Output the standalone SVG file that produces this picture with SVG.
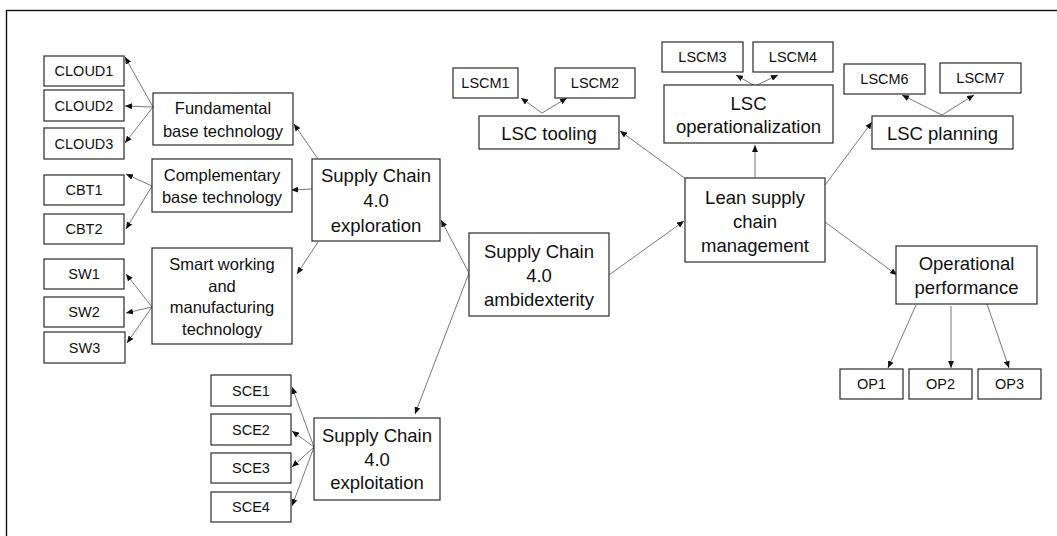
<svg xmlns="http://www.w3.org/2000/svg" width="1057" height="536" viewBox="0 0 1057 536">
<defs>
<marker id="ah" markerUnits="userSpaceOnUse" markerWidth="7" markerHeight="6" refX="7" refY="3" orient="auto">
<path d="M0,0 L7,3 L0,6 z" fill="#111"/>
</marker>
<style>
.box{fill:#fff;stroke:#2a2a2a;stroke-width:1.2}
.frame{fill:none;stroke:#111;stroke-width:1.4}
.c{fill:none;stroke:#555;stroke-width:0.8;marker-end:url(#ah)}
text{font-family:"Liberation Sans",Arial,sans-serif;fill:#111;text-anchor:middle;dominant-baseline:central}
.s{font-size:14.5px}
.m{font-size:16.5px}
.b{font-size:18.5px}
</style>
</defs>
<rect class="frame" x="6.5" y="10.5" width="1100" height="600"/>

<g id="connectors">
<line class="c" x1="153" y1="107" x2="125" y2="57"/>
<line class="c" x1="153" y1="107" x2="125" y2="106"/>
<line class="c" x1="153" y1="107" x2="125" y2="143"/>
<line class="c" x1="152" y1="186" x2="126" y2="174"/>
<line class="c" x1="152" y1="186" x2="126" y2="229"/>
<line class="c" x1="152" y1="307" x2="126" y2="274"/>
<line class="c" x1="152" y1="307" x2="126" y2="313"/>
<line class="c" x1="152" y1="307" x2="127" y2="343"/>
<line class="c" x1="318" y1="159" x2="294" y2="124"/>
<line class="c" x1="312" y1="189" x2="291" y2="190"/>
<line class="c" x1="318" y1="242" x2="297" y2="274"/>
<line class="c" x1="469" y1="273" x2="441" y2="220"/>
<line class="c" x1="469" y1="273" x2="415" y2="414"/>
<line class="c" x1="609" y1="275" x2="684" y2="221"/>
<line class="c" x1="686" y1="179" x2="620" y2="131"/>
<line class="c" x1="755" y1="178" x2="755" y2="145"/>
<line class="c" x1="825" y1="185" x2="872" y2="122"/>
<line class="c" x1="825" y1="222" x2="897" y2="275"/>
<line class="c" x1="916" y1="305" x2="888" y2="368"/>
<line class="c" x1="951" y1="306" x2="951" y2="368"/>
<line class="c" x1="987" y1="304" x2="1009" y2="368"/>
<line class="c" x1="542" y1="113" x2="521" y2="98"/>
<line class="c" x1="542" y1="113" x2="567" y2="98"/>
<line class="c" x1="755" y1="86" x2="736" y2="75"/>
<line class="c" x1="755" y1="86" x2="778" y2="75"/>
<line class="c" x1="942" y1="115" x2="902" y2="95"/>
<line class="c" x1="942" y1="115" x2="974" y2="95"/>
<line class="c" x1="314" y1="447" x2="292" y2="387"/>
<line class="c" x1="314" y1="447" x2="292" y2="431"/>
<line class="c" x1="314" y1="447" x2="292" y2="467"/>
<line class="c" x1="314" y1="447" x2="292" y2="506"/>
</g>

<g id="cloud1"><rect class="box" x="44" y="56" width="80" height="30"/><text class="s" x="84" y="71">CLOUD1</text></g>
<g id="cloud2"><rect class="box" x="44" y="90" width="80" height="31"/><text class="s" x="84" y="105.5">CLOUD2</text></g>
<g id="cloud3"><rect class="box" x="44" y="128" width="80" height="31"/><text class="s" x="84" y="143.5">CLOUD3</text></g>
<g id="cbt1"><rect class="box" x="44" y="175" width="80" height="30"/><text class="s" x="84" y="190">CBT1</text></g>
<g id="cbt2"><rect class="box" x="44" y="214" width="80" height="30"/><text class="s" x="84" y="229">CBT2</text></g>
<g id="sw1"><rect class="box" x="44" y="259" width="80" height="30"/><text class="s" x="84" y="274">SW1</text></g>
<g id="sw2"><rect class="box" x="44" y="297" width="80" height="30"/><text class="s" x="84" y="312">SW2</text></g>
<g id="sw3"><rect class="box" x="44" y="332" width="81" height="31"/><text class="s" x="84.5" y="347.5">SW3</text></g>

<g id="fundamental"><rect class="box" x="153" y="93" width="140" height="52"/><text class="m" x="223" y="108">Fundamental</text><text class="m" x="223" y="130.5">base technology</text></g>
<g id="complementary"><rect class="box" x="152" y="159" width="140" height="53"/><text class="m" x="222" y="174.5">Complementary</text><text class="m" x="222" y="196.5">base technology</text></g>
<g id="smart"><rect class="box" x="152" y="248" width="140" height="96"/><text class="m" x="222" y="264">Smart working</text><text class="m" x="222" y="285.5">and</text><text class="m" x="222" y="307">manufacturing</text><text class="m" x="222" y="328.5">technology</text></g>

<g id="exploration"><rect class="box" x="312" y="159" width="128" height="82"/><text class="b" x="376" y="175.5">Supply Chain</text><text class="b" x="376" y="200.3">4.0</text><text class="b" x="376" y="225">exploration</text></g>
<g id="ambidexterity"><rect class="box" x="469" y="233" width="140" height="83"/><text class="b" x="539" y="251">Supply Chain</text><text class="b" x="539" y="275">4.0</text><text class="b" x="539" y="299.5">ambidexterity</text></g>
<g id="exploitation"><rect class="box" x="314" y="418" width="126" height="82"/><text class="b" x="377" y="435.5">Supply Chain</text><text class="b" x="377" y="459.3">4.0</text><text class="b" x="377" y="482.7">exploitation</text></g>

<g id="sce1"><rect class="box" x="211" y="375" width="80" height="31"/><text class="s" x="251" y="390.5">SCE1</text></g>
<g id="sce2"><rect class="box" x="211" y="414" width="80" height="31"/><text class="s" x="251" y="429.5">SCE2</text></g>
<g id="sce3"><rect class="box" x="211" y="453" width="80" height="30"/><text class="s" x="251" y="468">SCE3</text></g>
<g id="sce4"><rect class="box" x="211" y="492" width="80" height="30"/><text class="s" x="251" y="507">SCE4</text></g>

<g id="lscm1"><rect class="box" x="453" y="68" width="65" height="30"/><text class="s" x="485.5" y="83">LSCM1</text></g>
<g id="lscm2"><rect class="box" x="555" y="68" width="80" height="30"/><text class="s" x="595" y="83">LSCM2</text></g>
<g id="lsctooling"><rect class="box" x="479" y="116" width="140" height="33"/><text class="b" x="549" y="133">LSC tooling</text></g>

<g id="lscm3"><rect class="box" x="662" y="42" width="81" height="30"/><text class="s" x="702.5" y="57">LSCM3</text></g>
<g id="lscm4"><rect class="box" x="753" y="42" width="80" height="30"/><text class="s" x="793" y="57">LSCM4</text></g>
<g id="lscop"><rect class="box" x="664" y="85" width="169" height="58"/><text class="b" x="748.5" y="103.3">LSC</text><text class="b" x="748.5" y="126.7">operationalization</text></g>

<g id="lscm6"><rect class="box" x="844" y="64" width="81" height="30"/><text class="s" x="884.5" y="79">LSCM6</text></g>
<g id="lscm7"><rect class="box" x="940" y="63" width="81" height="30"/><text class="s" x="980.5" y="78">LSCM7</text></g>
<g id="lscplanning"><rect class="box" x="872" y="116" width="141" height="33"/><text class="b" x="942.5" y="133">LSC planning</text></g>

<g id="lean"><rect class="box" x="685" y="178" width="140" height="84"/><text class="b" x="755" y="197">Lean supply</text><text class="b" x="755" y="221">chain</text><text class="b" x="755" y="245.5">management</text></g>
<g id="opperf"><rect class="box" x="896" y="246" width="141" height="58"/><text class="b" x="966.5" y="263.3">Operational</text><text class="b" x="966.5" y="287.7">performance</text></g>

<g id="op1"><rect class="box" x="840" y="369" width="63" height="30"/><text class="s" x="871.5" y="384">OP1</text></g>
<g id="op2"><rect class="box" x="909" y="369" width="63" height="30"/><text class="s" x="940.5" y="384">OP2</text></g>
<g id="op3"><rect class="box" x="978" y="369" width="63" height="30"/><text class="s" x="1009.5" y="384">OP3</text></g>
</svg>
